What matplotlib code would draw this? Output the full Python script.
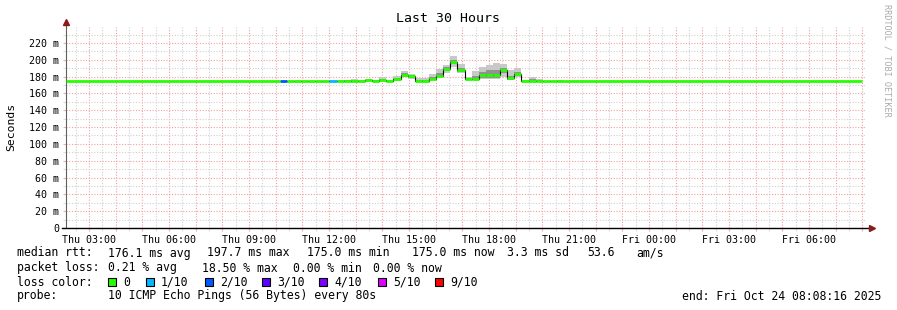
import numpy as np
import matplotlib
matplotlib.use("Agg")
import matplotlib.pyplot as plt
from matplotlib.patches import Rectangle
from matplotlib.ticker import MultipleLocator, FuncFormatter

# time axis in hours since Thu 00:00
t_start = 2 + 8 / 60 + 16 / 3600          # Thu 02:08:16
t_end = t_start + 30                      # Fri 08:08:16
data_end = 31.99

tick_hours = [3, 6, 9, 12, 15, 18, 21, 24, 27, 30]
tick_labels = ["Thu 03:00", "Thu 06:00", "Thu 09:00", "Thu 12:00", "Thu 15:00",
               "Thu 18:00", "Thu 21:00", "Fri 00:00", "Fri 03:00", "Fri 06:00"]

baseline_ms = 175.0

# 16 minute steps on Thursday where something happened
step_times = ["10:09", "10:25", "10:41", "10:57", "11:13", "11:29", "11:45", "12:01",
              "12:17", "12:33", "12:49", "13:05", "13:21", "13:37", "13:53", "14:09",
              "14:25", "14:41", "14:57", "15:13", "15:29", "15:45", "16:01", "16:17",
              "16:33", "16:49", "17:05", "17:21", "17:37", "17:53", "18:09", "18:25",
              "18:41", "18:57", "19:13", "19:29", "19:45", "20:01", "20:17", "20:33"]
median = [175.0, 175.0, 175.0, 175.0, 175.0, 175.0, 175.0, 175.0,
          175.0, 175.0, 175.0, 175.0, 175.8, 175.2, 176.0, 175.0,
          176.6, 182.1, 180.2, 175.0, 175.0, 176.6, 181.3, 188.5,
          196.8, 187.5, 177.0, 177.6, 181.6, 181.6, 181.6, 188.0,
          178.0, 183.1, 175.0, 175.0, 175.0, 175.0, 175.0, 175.0]
loss = [2, 0, 0, 0, 0, 0, 0, 1,
        0, 0, 0, 0, 0, 0, 0, 0,
        0, 0, 0, 0, 0, 0, 0, 0,
        0, 0, 0, 0, 0, 0, 0, 0,
        0, 0, 0, 0, 0, 0, 0, 0]
smoke_lo = [175.0, 175.0, 175.0, 175.0, 175.0, 175.0, 175.0, 175.0,
            175.0, 175.0, 175.0, 175.0, 175.0, 175.0, 175.0, 175.0,
            175.0, 179.5, 177.5, 175.0, 175.0, 175.8, 179.5, 184.0,
            192.0, 184.0, 176.0, 176.6, 176.6, 176.6, 176.6, 179.8,
            175.8, 179.0, 175.0, 175.0, 175.0, 175.0, 175.0, 175.0]
smoke_hi = [175.0, 175.0, 175.0, 175.0, 175.0, 175.0, 175.0, 175.0,
            175.8, 176.3, 177.3, 176.0, 177.0, 176.0, 179.5, 176.0,
            180.5, 187.0, 183.7, 178.0, 178.0, 182.9, 188.5, 194.0,
            204.3, 195.0, 179.8, 186.7, 190.9, 194.0, 195.6, 194.5,
            187.5, 190.1, 175.5, 179.0, 177.0, 175.0, 175.0, 176.5]
core_lo = [175.0, 175.0, 175.0, 175.0, 175.0, 175.0, 175.0, 175.0,
           175.0, 175.0, 175.0, 175.0, 175.0, 175.0, 175.0, 175.0,
           175.5, 180.5, 178.5, 175.0, 175.0, 176.0, 180.5, 186.5,
           194.5, 185.5, 176.3, 177.0, 178.5, 178.5, 178.5, 184.0,
           176.5, 181.0, 175.0, 175.0, 175.0, 175.0, 175.0, 175.5]
core_hi = [175.0, 175.0, 175.0, 175.0, 175.0, 175.0, 175.0, 175.0,
           175.3, 175.5, 176.0, 175.3, 176.2, 175.5, 177.5, 175.3,
           178.5, 184.5, 182.0, 176.5, 176.5, 179.0, 184.5, 191.0,
           200.0, 190.5, 178.0, 181.0, 185.5, 187.5, 188.0, 190.5,
           181.0, 186.0, 175.0, 177.0, 176.0, 175.0, 175.0, 176.5]

loss_levels = [0, 1, 2, 3, 4, 5, 9]
loss_names = ["0", "1/10", "2/10", "3/10", "4/10", "5/10", "9/10"]
loss_colors = ["#26ff00", "#00b8ff", "#0059ff", "#5e00ff", "#7e00ff", "#dd00ff", "#ff0000"]

rtt_stats = ["176.1 ms avg", "197.7 ms max", "175.0 ms min", "175.0 ms now",
             "3.3 ms sd", "53.6", "am/s"]
loss_stats = ["0.21 % avg", "18.50 % max", "0.00 % min", "0.00 % now"]
probe_text = "10 ICMP Echo Pings (56 Bytes) every 80s"
end_text = "end: Fri Oct 24 08:08:16 2025"

MONO = "DejaVu Sans Mono"
W, H = 897, 310


def hours(s):
    h, m = s.split(":")
    return int(h) + int(m) / 60


def fx(px):
    return px / W


def fy(py):
    return 1 - py / H


fig = plt.figure(figsize=(W / 100, H / 100), dpi=100)
ax = fig.add_axes([fx(66), fy(228), (866 - 66) / W, (228 - 27) / H])

starts = np.array([hours(s) for s in step_times])
step_len = 16 / 60
ends = starts + step_len
median = np.array(median)
color_of = dict(zip(loss_levels, loss_colors))

# smoke
ax.bar(starts, np.array(smoke_hi) - np.array(smoke_lo), bottom=smoke_lo, width=step_len,
       align="edge", color="#c8c8c8", lw=0, zorder=2)
ax.bar(starts, np.array(core_hi) - np.array(core_lo), bottom=core_lo, width=step_len,
       align="edge", color="#929292", lw=0, zorder=2)

# median line
ax.stairs(median, np.append(starts, ends[-1]), baseline=None, color="black", lw=0.8, zorder=3)
ax.hlines(median, starts, ends, colors=[color_of[l] for l in loss], lw=2, zorder=4,
          capstyle="butt")
ax.hlines([baseline_ms, baseline_ms], [t_start, ends[-1]], [starts[0], data_end],
          colors=loss_colors[0], lw=2, zorder=4, capstyle="butt")

ax.set_xlim(t_start, t_end)
ax.set_ylim(0, 239)

# grid like rrdtool
ax.xaxis.set_major_locator(MultipleLocator(1))
ax.xaxis.set_minor_locator(MultipleLocator(0.5))
lab = dict(zip(tick_hours, tick_labels))
ax.xaxis.set_major_formatter(FuncFormatter(lambda v, p: lab.get(int(round(v)), "")))
ax.yaxis.set_major_locator(MultipleLocator(20))
ax.yaxis.set_minor_locator(MultipleLocator(10))
ax.yaxis.set_major_formatter(FuncFormatter(lambda v, p: "0" if v == 0 else f"{v:.0f} m"))
ax.grid(which="major", color="#f2a0a0", lw=0.8, linestyle=(0, (1, 1.5)), zorder=1)
ax.grid(which="minor", color="#d0d0d0", lw=0.8, linestyle=(0, (1, 1.5)), zorder=1)
ax.set_axisbelow(True)
ax.tick_params(which="both", length=2.5, width=0.8, color="#e8b0b0")
ax.tick_params(axis="x", which="major", pad=2.5, labelsize=7.2, labelfontfamily=MONO)
ax.tick_params(axis="y", which="major", pad=2.5, labelsize=7.2, labelfontfamily=MONO)
ax.tick_params(which="minor", color="#dddddd")
ax.yaxis.get_major_ticks()[0].set_pad(2.5 + 8.6)

for s in ["top", "right", "bottom"]:
    ax.spines[s].set_visible(False)
ax.spines["left"].set_color("#606060")
ax.spines["left"].set_linewidth(0.8)
ax.plot([-0.005, 1.003], [0, 0], transform=ax.transAxes, color="black", lw=1,
        clip_on=False, zorder=5)
ax.plot([0, 0], [1, 1.02], transform=ax.transAxes, color="#606060", lw=0.8,
        clip_on=False, zorder=5)
ax.plot([0], [1.025], transform=ax.transAxes, marker="^", ms=4, color="#8b1a1a",
        clip_on=False, zorder=6)
ax.plot([1.007], [0], transform=ax.transAxes, marker=">", ms=4, color="#8b1a1a",
        clip_on=False, zorder=6)

# titles
fig.text(fx(448), fy(19), "Last 30 Hours", ha="center", va="center", fontsize=9.5,
         family=MONO)
fig.text(fx(11), fy(127), "Seconds", ha="center", va="center", rotation=90,
         fontsize=8.2, family=MONO)
fig.text(fx(887), fy(4), "RRDTOOL / TOBI OETIKER", ha="center", va="top", rotation=270,
         fontsize=6.1, family=MONO, color="#aaaaaa")

# legend rows
fs = 8.3
rows_y = [253, 268, 282, 296]
fig.text(fx(16.5), fy(rows_y[0]), "median rtt:", va="center", fontsize=fs, family=MONO)
for x, s in zip([108, 207, 307, 412, 507, 587, 636], rtt_stats):
    fig.text(fx(x), fy(rows_y[0]), s, va="center", fontsize=fs, family=MONO)

fig.text(fx(16.5), fy(rows_y[1]), "packet loss:", va="center", fontsize=fs, family=MONO)
for x, s in zip([108, 202, 293, 373], loss_stats):
    fig.text(fx(x), fy(rows_y[1]), s, va="center", fontsize=fs, family=MONO)

fig.text(fx(16.5), fy(rows_y[2]), "loss color:", va="center", fontsize=fs, family=MONO)
sq_x = [108, 146, 205, 262, 319, 378, 435]
for x, name, c in zip(sq_x, loss_names, loss_colors):
    fig.patches.append(Rectangle((fx(x), fy(rows_y[2] + 4)), 8 / W, 8 / H,
                                 transform=fig.transFigure, facecolor=c,
                                 edgecolor="black", lw=0.8))
    fig.text(fx(x + 15), fy(rows_y[2]), name, va="center", fontsize=fs, family=MONO)

fig.text(fx(16.5), fy(rows_y[3]), "probe:", va="center", fontsize=fs, family=MONO)
fig.text(fx(108), fy(rows_y[3]), probe_text, va="center", fontsize=fs, family=MONO)
fig.text(fx(881), fy(rows_y[3]), end_text, ha="right", va="center", fontsize=fs,
         family=MONO)

fig.savefig("out.png", dpi=100)
